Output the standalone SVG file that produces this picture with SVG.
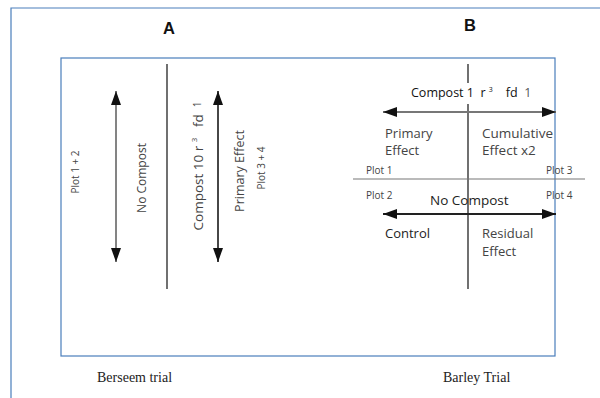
<svg xmlns="http://www.w3.org/2000/svg" width="600" height="398" viewBox="0 0 600 398">
<style>
.frame{fill:none;stroke:#4a7ebb;stroke-width:1.2}
.ln{stroke:#111;stroke-width:1.2}
.ar{stroke:#777;stroke-width:1.8;fill:none}
.t{font-family:"Open Sans","Liberation Sans",sans-serif;fill:#444;white-space:pre}
.s{font-family:"Liberation Serif",serif;font-size:14px;fill:#222}
.h{font-family:"Liberation Sans",sans-serif;font-size:16.5px;font-weight:bold;fill:#111}
</style>
<defs>
<marker id="ah" viewBox="0 0 14 10" refX="14" refY="5" markerWidth="14" markerHeight="10" orient="auto-start-reverse" markerUnits="userSpaceOnUse">
<path d="M0,0L14,5L0,10z" fill="#111"/>
</marker>
</defs>
<rect width="600" height="398" fill="#fff"/>
<path class="frame" d="M11,398V8H600"/>
<rect class="frame" x="61" y="58" width="494" height="298"/>
<text class="h" x="169" y="34" text-anchor="middle">A</text>
<text class="h" x="470" y="31" text-anchor="middle">B</text>
<g id="connectors">
<line class="ln" x1="167" y1="64" x2="167" y2="289"/>
<line class="ar" x1="116" y1="91" x2="116" y2="262" marker-start="url(#ah)" marker-end="url(#ah)"/>
<line class="ar" x1="218" y1="91" x2="218" y2="262" marker-start="url(#ah)" marker-end="url(#ah)" style="stroke:#333"/>
<line class="ln" x1="468" y1="64" x2="468" y2="83"/>
<line class="ln" x1="468" y1="104" x2="468" y2="289"/>
<line class="ar" x1="383" y1="112" x2="556" y2="112" marker-start="url(#ah)" marker-end="url(#ah)"/>
<line class="ar" x1="353" y1="179" x2="585" y2="179" style="stroke-width:1.2"/>
<line class="ar" x1="383" y1="214" x2="556" y2="214" marker-start="url(#ah)" marker-end="url(#ah)" style="stroke:#222"/>
</g>
<g id="plot12"><text class="t" font-size="10" transform="translate(79,172) rotate(-90)" text-anchor="middle">Plot 1 + 2</text></g>
<g id="nocompostA"><text class="t" font-size="12" transform="translate(146,178) rotate(-90)" text-anchor="middle">No Compost</text></g>
<g id="compost10"><text class="t" font-size="13.5" transform="translate(203,166) rotate(-90)" text-anchor="middle">Compost 10 r <tspan font-size="8" dy="-6">3</tspan><tspan dy="6">   fd  </tspan><tspan font-size="10" dy="-2">1</tspan></text></g>
<g id="primaryA"><text class="t" font-size="12.5" transform="translate(244,171) rotate(-90)" text-anchor="middle">Primary Effect</text></g>
<g id="plot34"><text class="t" font-size="10" transform="translate(265,168) rotate(-90)" text-anchor="middle">Plot 3 + 4</text></g>
<g id="compost1"><text class="t" font-size="12.5" x="411" y="97" style="fill:#111">Compost 1  r <tspan font-size="7" dy="-5">3</tspan><tspan dy="5">    fd  </tspan><tspan style="fill:#555">1</tspan></text></g>
<g id="primaryB"><text class="t" font-size="13" x="385" y="138">Primary</text><text class="t" font-size="13" x="385" y="155">Effect</text></g>
<g id="cumulative"><text class="t" font-size="13.5" x="482" y="138">Cumulative</text><text class="t" font-size="13.5" x="482" y="155">Effect x2</text></g>
<g id="plot1"><text class="t" font-size="10" x="366" y="174">Plot 1</text></g>
<g id="plot3"><text class="t" font-size="10" x="546" y="174">Plot 3</text></g>
<g id="plot2"><text class="t" font-size="10" x="366" y="199">Plot 2</text></g>
<g id="plot4"><text class="t" font-size="10" x="546" y="199">Plot 4</text></g>
<g id="nocompostB"><text class="t" font-size="13.5" x="430" y="205" style="fill:#222">No Compost</text></g>
<g id="control"><text class="t" font-size="13" x="385" y="238" style="fill:#222">Control</text></g>
<g id="residual"><text class="t" font-size="13" x="482" y="238">Residual</text><text class="t" font-size="13" x="482" y="256">Effect</text></g>
<text class="s" x="97" y="382">Berseem trial</text>
<text class="s" x="443" y="382">Barley Trial</text>
</svg>
